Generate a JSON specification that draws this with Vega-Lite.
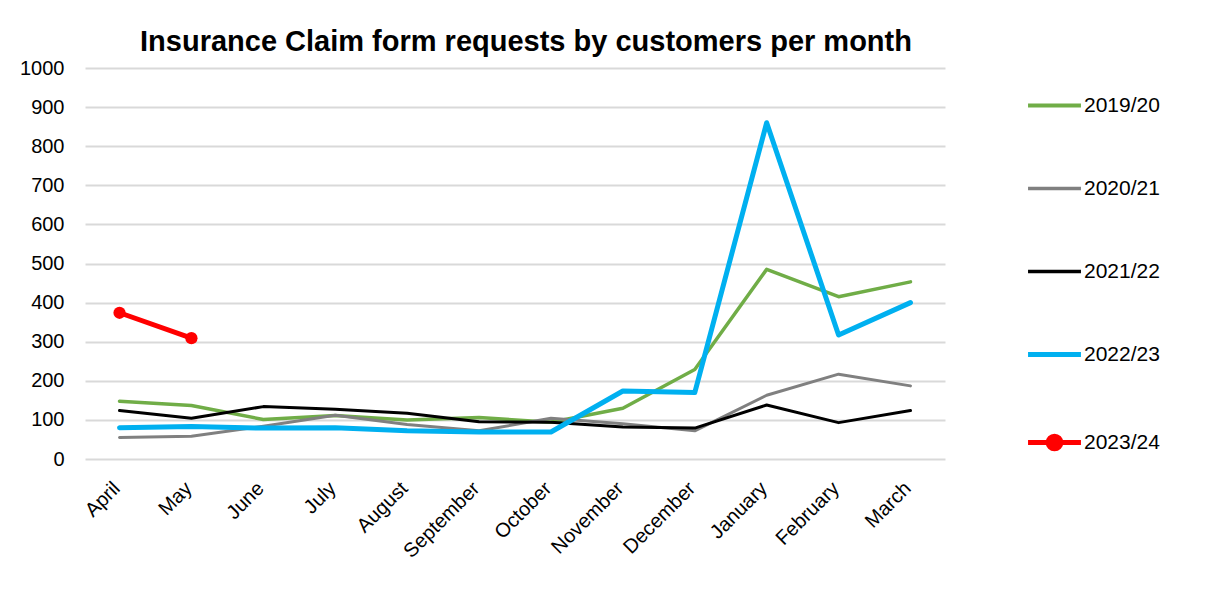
{
  "$schema": "https://vega.github.io/schema/vega-lite/v6.json",
  "width": 860,
  "height": 391,
  "autosize": {"type": "none"},
  "padding": {"left": 85, "top": 68, "right": 268, "bottom": 140},
  "background": "white",
  "title": {
    "text": "Insurance Claim form requests by customers per month",
    "font": "Liberation Sans",
    "fontSize": 29,
    "fontWeight": "bold",
    "color": "#000000",
    "anchor": "middle",
    "dx": 11,
    "offset": 1
  },
  "data": {
    "values": [
      {"month": "April", "year": "2019/20", "value": 148},
      {"month": "May", "year": "2019/20", "value": 137},
      {"month": "June", "year": "2019/20", "value": 101},
      {"month": "July", "year": "2019/20", "value": 111},
      {"month": "August", "year": "2019/20", "value": 100},
      {"month": "September", "year": "2019/20", "value": 106},
      {"month": "October", "year": "2019/20", "value": 94},
      {"month": "November", "year": "2019/20", "value": 130},
      {"month": "December", "year": "2019/20", "value": 229},
      {"month": "January", "year": "2019/20", "value": 485},
      {"month": "February", "year": "2019/20", "value": 415},
      {"month": "March", "year": "2019/20", "value": 453},
      {"month": "April", "year": "2020/21", "value": 55},
      {"month": "May", "year": "2020/21", "value": 58},
      {"month": "June", "year": "2020/21", "value": 84},
      {"month": "July", "year": "2020/21", "value": 112},
      {"month": "August", "year": "2020/21", "value": 88},
      {"month": "September", "year": "2020/21", "value": 72},
      {"month": "October", "year": "2020/21", "value": 104},
      {"month": "November", "year": "2020/21", "value": 90},
      {"month": "December", "year": "2020/21", "value": 72},
      {"month": "January", "year": "2020/21", "value": 163},
      {"month": "February", "year": "2020/21", "value": 217},
      {"month": "March", "year": "2020/21", "value": 187},
      {"month": "April", "year": "2021/22", "value": 124},
      {"month": "May", "year": "2021/22", "value": 104},
      {"month": "June", "year": "2021/22", "value": 134},
      {"month": "July", "year": "2021/22", "value": 127},
      {"month": "August", "year": "2021/22", "value": 117},
      {"month": "September", "year": "2021/22", "value": 95},
      {"month": "October", "year": "2021/22", "value": 94},
      {"month": "November", "year": "2021/22", "value": 82},
      {"month": "December", "year": "2021/22", "value": 79},
      {"month": "January", "year": "2021/22", "value": 138},
      {"month": "February", "year": "2021/22", "value": 93},
      {"month": "March", "year": "2021/22", "value": 124},
      {"month": "April", "year": "2022/23", "value": 80},
      {"month": "May", "year": "2022/23", "value": 83},
      {"month": "June", "year": "2022/23", "value": 79},
      {"month": "July", "year": "2022/23", "value": 80},
      {"month": "August", "year": "2022/23", "value": 72},
      {"month": "September", "year": "2022/23", "value": 69},
      {"month": "October", "year": "2022/23", "value": 69},
      {"month": "November", "year": "2022/23", "value": 174},
      {"month": "December", "year": "2022/23", "value": 170},
      {"month": "January", "year": "2022/23", "value": 860},
      {"month": "February", "year": "2022/23", "value": 317},
      {"month": "March", "year": "2022/23", "value": 400},
      {"month": "April", "year": "2023/24", "value": 374},
      {"month": "May", "year": "2023/24", "value": 309}
    ]
  },
  "encoding": {
    "x": {
      "field": "month",
      "type": "nominal",
      "sort": ["April", "May", "June", "July", "August", "September", "October", "November", "December", "January", "February", "March"],
      "scale": {"type": "point", "padding": 0.48},
      "axis": {
        "title": null,
        "domain": false,
        "ticks": false,
        "grid": false,
        "labelAngle": -45,
        "labelAlign": "right",
        "labelBaseline": "middle",
        "labelFont": "Liberation Sans",
        "labelFontSize": 20,
        "labelColor": "#000000",
        "labelPadding": 26,
        "labelOffset": -3
      }
    },
    "y": {
      "field": "value",
      "type": "quantitative",
      "scale": {"domain": [0, 1000], "nice": false},
      "axis": {
        "title": null,
        "domain": false,
        "ticks": false,
        "format": "d",
        "values": [0, 100, 200, 300, 400, 500, 600, 700, 800, 900, 1000],
        "gridColor": "#d9d9d9",
        "gridWidth": 2,
        "labelFont": "Liberation Sans",
        "labelFontSize": 20,
        "labelColor": "#000000",
        "labelPadding": 21
      }
    },
    "color": {
      "field": "year",
      "type": "nominal",
      "scale": {
        "domain": ["2019/20", "2020/21", "2021/22", "2022/23", "2023/24"],
        "range": ["#70AD47", "#808080", "#000000", "#00B0F0", "#FF0000"]
      },
      "legend": {
        "title": null,
        "orient": "none",
        "legendX": 959,
        "legendY": 27,
        "symbolType": "M-1,0H1",
        "symbolSize": 2800,
        "symbolStrokeWidth": 4,
        "labelFont": "Liberation Sans",
        "labelFontSize": 21,
        "labelColor": "#000000",
        "labelOffset": 19,
        "rowPadding": 61,
        "encode": {
          "symbols": {
            "update": {
              "shape": {"signal": "datum.value === '2023/24' ? 'M-1,0H1M-0.24,0A0.24,0.24 0 1,0 0.24,0A0.24,0.24 0 1,0 -0.24,0' : 'M-1,0H1'"},
              "fill": {"signal": "datum.value === '2023/24' ? '#FF0000' : 'transparent'"},
              "strokeWidth": {"signal": "datum.value === '2022/23' || datum.value === '2023/24' ? 5 : (datum.value === '2019/20' ? 4 : 3.5)"}
            }
          }
        }
      }
    }
  },
  "layer": [
    {
      "transform": [{"filter": "datum.year === '2019/20'"}],
      "mark": {"type": "line", "strokeWidth": 3.5, "strokeCap": "round", "strokeJoin": "round"},
      "encoding": {}
    },
    {
      "transform": [{"filter": "datum.year === '2020/21'"}],
      "mark": {"type": "line", "strokeWidth": 3, "strokeCap": "round", "strokeJoin": "round"},
      "encoding": {}
    },
    {
      "transform": [{"filter": "datum.year === '2021/22'"}],
      "mark": {"type": "line", "strokeWidth": 3, "strokeCap": "round", "strokeJoin": "round"},
      "encoding": {}
    },
    {
      "transform": [{"filter": "datum.year === '2022/23'"}],
      "mark": {"type": "line", "strokeWidth": 5, "strokeCap": "round", "strokeJoin": "round"},
      "encoding": {}
    },
    {
      "transform": [{"filter": "datum.year === '2023/24'"}],
      "mark": {"type": "line", "strokeWidth": 5, "strokeCap": "round", "strokeJoin": "round"},
      "encoding": {}
    },
    {
      "transform": [{"filter": "datum.year === '2023/24'"}],
      "mark": {"type": "point", "filled": true, "size": 150, "opacity": 1},
      "encoding": {}
    }
  ],
  "config": {
    "view": {"stroke": null}
  }
}
